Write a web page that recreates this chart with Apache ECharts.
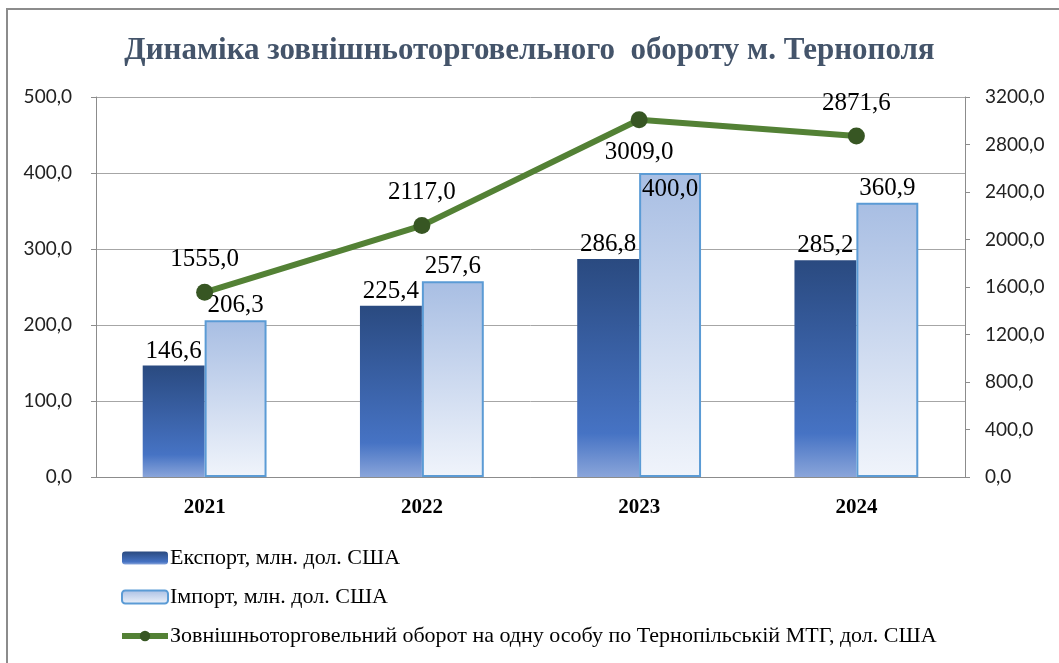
<!DOCTYPE html>
<html>
<head>
<meta charset="utf-8">
<script src="https://cdn.jsdelivr.net/npm/echarts@6/dist/echarts.min.js"></script>
<style>
  html, body { margin: 0; padding: 0; background: #fff; }
  #chart { width: 1059px; height: 663px; }
</style>
</head>
<body>
<div id="chart"></div>
<script>
const years = ['2021', '2022', '2023', '2024']
const exportData = [146.6, 225.4, 286.8, 285.2]
const importData = [206.3, 257.6, 400.0, 360.9]
const perCapita = [1555.0, 2117.0, 3009.0, 2871.6]

const fmt = v => v.toFixed(1).replace('.', ',')
const serif = '"Liberation Serif", "Times New Roman", serif'
const sans = 'Lato, "Open Sans", sans-serif'

const names = [
  'Експорт, млн. дол. США',
  'Імпорт, млн. дол. США',
  'Зовнішньоторговельний оборот на одну особу по Тернопільській МТГ, дол. США'
]

const chart = echarts.init(document.getElementById('chart'))

const dataLabel = {
  show: true,
  position: 'top',
  distance: 2,
  fontFamily: serif,
  fontSize: 25,
  color: '#000',
  formatter: p => fmt(p.value)
}

chart.setOption({
  animation: false,
  backgroundColor: '#fff',
  // рамка
  graphic: [{
    type: 'rect',
    shape: { x: 7, y: 9, width: 1200, height: 800 },
    style: { fill: null, stroke: '#8c8c8c', lineWidth: 2 }
  }],
  title: {
    text: 'Динаміка зовнішньоторговельного  обороту м. Тернополя',
    left: 'center',
    top: 30,
    textStyle: {
      fontFamily: serif,
      fontWeight: 'bold',
      fontSize: 31,
      color: '#44546a'
    }
  },
  grid: {
    left: 96,
    right: 94,
    top: 97,
    bottom: 186
  },
  legend: {
    orient: 'vertical',
    left: 114,
    top: 542,
    itemGap: 17,
    itemWidth: 46,
    itemHeight: 13,
    textStyle: { fontFamily: serif, fontSize: 22, color: '#000', padding: [0, 0, 0, -3] },
    data: [
      names[0],
      names[1],
      { name: names[2], lineStyle: { width: 6, color: '#538135' } }
    ]
  },
  xAxis: {
    type: 'category',
    data: years,
    axisLine: { lineStyle: { color: '#8c8c8c' } },
    axisTick: { show: false },
    axisLabel: {
      margin: 20,
      fontFamily: serif,
      fontWeight: 'bold',
      fontSize: 21,
      color: '#000'
    }
  },
  yAxis: [{
    type: 'value',
    min: 0,
    max: 500,
    interval: 100,
    axisLine: { show: true, lineStyle: { color: '#8c8c8c' } },
    axisTick: { show: true, length: 5, lineStyle: { color: '#8c8c8c' } },
    splitLine: { lineStyle: { color: '#a6a6a6' } },
    axisLabel: {
      margin: 24,
      fontFamily: sans,
      fontSize: 19,
      color: '#222',
      formatter: fmt
    }
  }, {
    type: 'value',
    min: 0,
    max: 3200,
    interval: 400,
    axisLine: { show: true, lineStyle: { color: '#8c8c8c' } },
    axisTick: { show: true, length: 5, lineStyle: { color: '#8c8c8c' } },
    splitLine: { show: false },
    axisLabel: {
      margin: 20,
      fontFamily: sans,
      fontSize: 19,
      color: '#222',
      formatter: fmt
    }
  }],
  series: [{
    name: names[0],
    type: 'bar',
    barGap: '0%',
    barCategoryGap: '43%',
    data: exportData,
    itemStyle: {
      color: new echarts.graphic.LinearGradient(0, 0, 0, 1, [
        { offset: 0, color: '#2a4a80' },
        { offset: 0.8, color: '#4673c4' },
        { offset: 1, color: '#8aa5da' }
      ])
    },
    label: dataLabel
  }, {
    name: names[1],
    type: 'bar',
    data: importData.map((v, i) => i === 2
      ? { value: v, label: { position: 'insideTop', distance: 4 } }
      : v),
    itemStyle: {
      color: new echarts.graphic.LinearGradient(0, 0, 0, 1, [
        { offset: 0, color: '#a8bee3' },
        { offset: 1, color: '#f0f4fb' }
      ]),
      borderColor: '#5b9bd5',
      borderWidth: 2
    },
    label: dataLabel
  }, {
    name: names[2],
    type: 'line',
    yAxisIndex: 1,
    data: perCapita.map((v, i) => i === 2
      ? { value: v, label: { position: 'bottom', distance: 12 } }
      : v),
    lineStyle: { color: '#538135', width: 6 },
    itemStyle: { color: '#375623' },
    symbol: 'circle',
    symbolSize: 17,
    label: Object.assign({}, dataLabel, { distance: 12 }),
    z: 5
  }]
})
</script>
</body>
</html>
